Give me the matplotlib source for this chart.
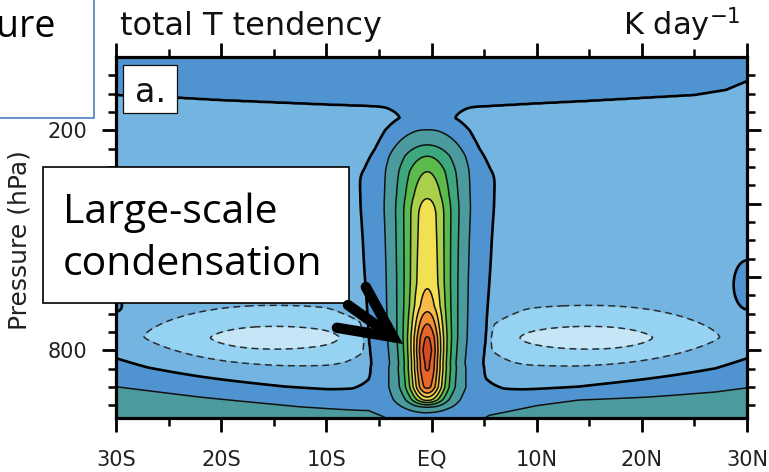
import numpy as np
import matplotlib
matplotlib.use("Agg")
import matplotlib.pyplot as plt
from matplotlib.patches import Rectangle, FancyArrowPatch

W, H = 769, 472

# contour intervals (K/day) and fill colours
levels = [-2, -1, 0, 1, 2, 3, 4, 5, 6, 7, 8, 9]
fill_colors = ["#c4e6f7", "#96d2f1", "#74b4e0", "#4f94d0", "#4a9a9e",
               "#3da87e", "#5bba4c", "#a9cf4b", "#f1e152", "#f6ba46",
               "#ef8d31", "#e6652a", "#d84a22"]

lat_ticks = [-30, -20, -10, 0, 10, 20, 30]
lat_labels = ["30S", "20S", "10S", "EQ", "10N", "20N", "30N"]
p_ticks = [200, 400, 600, 800]
p_labels = ["200", "", "", "800"]   # 400 and 600 sit under the call-out box

# background: pressure of the upper zero line, near-surface zero line and 1 K/day line
top_lat = [-30, -25, -20, -15, -10, -5, 0, 5, 10, 15, 20, 25, 28, 30]
top_zero_hpa = [104, 110, 118, 124, 130, 135, 138, 135, 127, 120, 112, 104, 90, 66]
sfc_lat = [-30, -27, -22, -14, -10, -7, 0, 7, 10, 14, 20.5, 27, 30]
sfc_zero_hpa = [811, 835, 857, 890, 900, 905, 905, 904, 900, 893, 865, 838, 811]
one_lat = [-30, -22, -12.5, -6, -4.5, -3, 0, 3, 4.5, 5.5, 10, 14, 20.5, 27, 30]
sfc_one_hpa = [898, 925, 953, 966, 985, 1060, 1100, 1060, 995, 978, 950, 934, 925, 912, 901]

# equatorial heating tower (large-scale condensation)
tower_lat = -0.4
dist_hpa = [0, 150, 200, 240, 270, 312, 378, 440, 900, 935, 953, 969, 985]
dist_val = [4.0, 3.2, 2.03, 1.52, 1.14, 0.8, 0.49, 0.0, 0.0, 0.6, 1.4, 2.3, 3.2]
amp_hpa = [0, 440, 600, 700, 767, 850, 900, 950, 985]
amp_val = [6.0, 6.0, 6.3, 6.6, 6.8, 6.5, 6.0, 4.5, 3.0]
wid_hpa = [0, 300, 500, 767, 850, 900, 950, 985]
wid_val = [2.2, 2.1, 1.92, 1.73, 1.65, 1.5, 1.2, 1.0]
edge_hpa = [0, 160, 200, 250, 305, 360, 985]
edge_lat = [3.0, 3.4, 4.3, 5.2, 6.6, 9.0, 9.0]
core_hpa = [0, 620, 680, 720, 767, 800, 850, 900, 935, 955, 985]
core_amp = [0, 0, 0.5, 1.6, 2.8, 3.3, 3.0, 2.3, 1.0, 0, 0]
core_wid = 1.35

# subtropical cooling cells
cool_lat = [-15.0, 15.0]
cool_hpa = [766.0, 766.0]
cool_depth = [2.0, 2.0]
cool_wlat_pole = [10.7, 10.7]
cool_wlat_eq = [12.0, 12.0]
cool_whpa = [71.0, 71.0]

# small warm patches at the domain edges
bump_lat = [-30.0, 30.0]
bump_hpa = [680.0, 625.0]
bump_amp = [0.75, 1.2]
bump_wlat = [1.1, 1.39]
bump_whpa = [31.0, 75.0]

# ---------------------------------------------------------------- field
lat = np.linspace(-30, 30, 601)
pres = np.linspace(0, 985, 500)
LAT, P = np.meshgrid(lat, pres)

bg = np.empty_like(P)
tz = np.interp(lat, top_lat, top_zero_hpa)
sz = np.interp(lat, sfc_lat, sfc_zero_hpa)
so = np.interp(lat, one_lat, sfc_one_hpa)
for j in range(lat.size):
    xp = [0, tz[j], tz[j] + 30, sz[j] - 70, sz[j], so[j], 2 * so[j] - sz[j]]
    fp = [0.6, 0.0, -0.5, -0.5, 0.0, 1.0, 2.0]
    bg[:, j] = np.interp(pres, xp, fp)

dlat = LAT - tower_lat
dv = np.interp(P, dist_hpa, dist_val)
amp = np.interp(P, amp_hpa, amp_val)
wid = np.interp(P, wid_hpa, wid_val)
D = np.sqrt((dlat / wid) ** 2 + dv ** 2)
taper = 1.0 / (1.0 + np.exp((np.abs(dlat) - np.interp(P, edge_hpa, edge_lat)) / 0.4))
tower = amp / np.cosh(D) * taper
tower += np.interp(P, core_hpa, core_amp) * np.exp(-(dlat / core_wid) ** 2)

cool = np.zeros_like(P)
for la, pc, dep, wpo, weq, wp in zip(cool_lat, cool_hpa, cool_depth,
                                      cool_wlat_pole, cool_wlat_eq, cool_whpa):
    wl = np.where(np.abs(LAT) > abs(la), wpo, weq)
    cool -= dep * np.exp(-np.abs((LAT - la) / wl) ** 2.17 - np.abs((P - pc) / wp) ** 1.5)
mask = np.clip((0.55 - tower) / 0.2, 0, 1)

bump = np.zeros_like(P)
for la, pc, a, wl, wp in zip(bump_lat, bump_hpa, bump_amp, bump_wlat, bump_whpa):
    bump += a * np.exp(-((LAT - la) / wl) ** 2 - ((P - pc) / wp) ** 2)

field = bg + tower + cool * mask + bump

# ---------------------------------------------------------------- figure
fig = plt.figure(figsize=(W / 100, H / 100), dpi=100)
ax = fig.add_axes([116 / W, 1 - 418 / H, (747 - 116) / W, (418 - 57) / H])

ax.contourf(LAT, P, field, levels=levels, colors=fill_colors, extend="both")
neg = ax.contour(LAT, P, field, levels=[l for l in levels if l < 0],
                 colors="#2b2b2b", linewidths=1.1)
neg.set_linestyle((0, (4.5, 3.0)))
ax.contour(LAT, P, field, levels=[l for l in levels if l > 0],
           colors="#111111", linewidths=1.1)
ax.contour(LAT, P, field, levels=[0], colors="#000000", linewidths=1.9)

ax.set_xlim(-30, 30)
ax.set_ylim(985, 0)
ax.set_xticks(lat_ticks, lat_labels)
ax.set_xticks([-25, -15, -5, 5, 15, 25], minor=True)
ax.set_yticks(p_ticks, p_labels)
ax.set_yticks([p for p in range(50, 1000, 50) if p % 200 != 0], minor=True)
ax.tick_params(which="both", direction="out", top=True, right=True,
               labeltop=False, labelright=False, colors="#000000",
               labelcolor="#222222", labelsize=15)
ax.tick_params(which="major", length=10, width=2.0)
ax.tick_params(which="minor", length=5.5, width=1.8)
ax.tick_params(axis="x", which="major", pad=13)
ax.tick_params(axis="y", which="major", pad=11)
for s in ax.spines.values():
    s.set_linewidth(2.3)

fig.text(20 / W, 1 - 240 / H, "Pressure (hPa)", rotation=90, ha="center",
         va="center", fontsize=18, color="#222222")
fig.text(120 / W, 1 - 35 / H, "total T tendency", ha="left", va="baseline",
         fontsize=23, color="#111111")
fig.text(741 / W, 1 - 35 / H, "K day$^{-1}$", ha="right", va="baseline",
         fontsize=22, color="#111111")


def px_rect(x0, y0, x1, y1, **kw):
    return Rectangle((x0 / W, 1 - y1 / H), (x1 - x0) / W, (y1 - y0) / H,
                     transform=fig.transFigure, **kw)


# panel label
fig.add_artist(px_rect(123, 65, 177, 113, facecolor="white",
                       edgecolor="#111111", lw=0.9, zorder=10))
fig.text(151 / W, 1 - 102 / H, "a.", ha="center", va="baseline",
         fontsize=24, color="#111111", zorder=11)

# slide call-outs
fig.add_artist(px_rect(-10, -10, 94, 118, facecolor="white",
                       edgecolor="#4f7fc0", lw=1.2, zorder=10))
fig.text(55 / W, 1 - 37 / H, "ure", ha="right", va="baseline",
         fontsize=27, family="Open Sans", color="#000000", zorder=11)

fig.add_artist(px_rect(43, 167, 349, 303, facecolor="white",
                       edgecolor="#000000", lw=1.2, zorder=10))
fig.text(63 / W, 1 - 223 / H, "Large-scale", ha="left", va="baseline",
         fontsize=29.5, family="Open Sans", color="#000000", zorder=11)
fig.text(63 / W, 1 - 275 / H, "condensation", ha="left", va="baseline",
         fontsize=29.5, family="Open Sans", color="#000000", zorder=11)

arrow = FancyArrowPatch((348 / W, 1 - 305 / H), (403 / W, 1 - 344 / H),
                        transform=fig.transFigure,
                        arrowstyle="->,head_length=3.7,head_width=1.8",
                        mutation_scale=10, lw=7.5, color="#000000",
                        shrinkA=0, shrinkB=0, joinstyle="miter",
                        capstyle="round", zorder=12)
fig.add_artist(arrow)

fig.savefig("out.png", dpi=100)
